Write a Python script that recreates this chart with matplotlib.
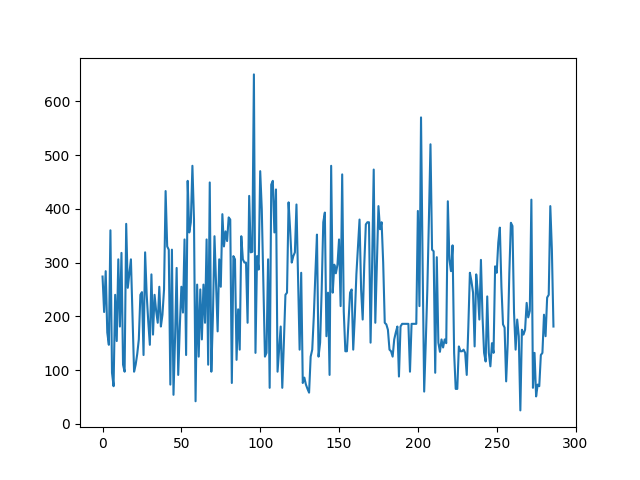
import matplotlib
matplotlib.use("Agg")
import matplotlib.pyplot as plt

values = [
    274, 208, 284, 170, 147, 360, 95, 70, 240, 154,
    306, 181, 318, 110, 97, 372, 253, 280, 306, 200,
    97, 110, 130, 157, 240, 245, 128, 319, 240, 190,
    147, 278, 166, 240, 210, 188, 255, 181, 203, 250,
    433, 330, 324, 73, 324, 54, 160, 290, 91, 180,
    255, 207, 343, 128, 452, 356, 375, 480, 380, 42,
    259, 125, 250, 157, 259, 188, 343, 110, 449, 97,
    200, 349, 260, 172, 306, 255, 390, 330, 358, 340,
    384, 380, 76, 312, 306, 119, 213, 138, 349, 306,
    300, 300, 188, 424, 319, 320, 650, 132, 312, 287,
    470, 399, 260, 125, 132, 306, 67, 445, 452, 356,
    436, 97, 140, 181, 67, 150, 240, 244, 412, 360,
    300, 312, 319, 408, 270, 138, 281, 76, 86, 73,
    65, 58, 125, 138, 200, 280, 352, 125, 151, 250,
    375, 393, 163, 244, 91, 480, 244, 296, 280, 296,
    343, 219, 464, 209, 135, 135, 190, 244, 250, 138,
    200, 278, 330, 380, 250, 194, 296, 371, 375, 375,
    151, 300, 473, 188, 300, 405, 362, 375, 300, 188,
    185, 175, 138, 135, 125, 157, 170, 181, 88, 181,
    186, 186, 186, 186, 186, 97, 186, 186, 186, 186,
    396, 219, 570, 300, 60, 150, 250, 380, 520, 324,
    321, 95, 310, 151, 134, 157, 142, 157, 150, 414,
    306, 284, 332, 132, 65, 65, 144, 135, 135, 138,
    132, 91, 180, 281, 265, 244, 144, 278, 246, 194,
    305, 200, 132, 116, 237, 132, 107, 150, 132, 293,
    281, 337, 365, 255, 185, 179, 79, 150, 280, 374,
    368, 207, 138, 194, 163, 25, 175, 166, 175, 225,
    198, 210, 417, 67, 132, 51, 73, 70, 128, 132,
    203, 163, 235, 240, 405, 324, 181,
]

plt.figure(figsize=(6.4, 4.8), dpi=100)
plt.plot(values)
plt.savefig("out.png", dpi=100)
